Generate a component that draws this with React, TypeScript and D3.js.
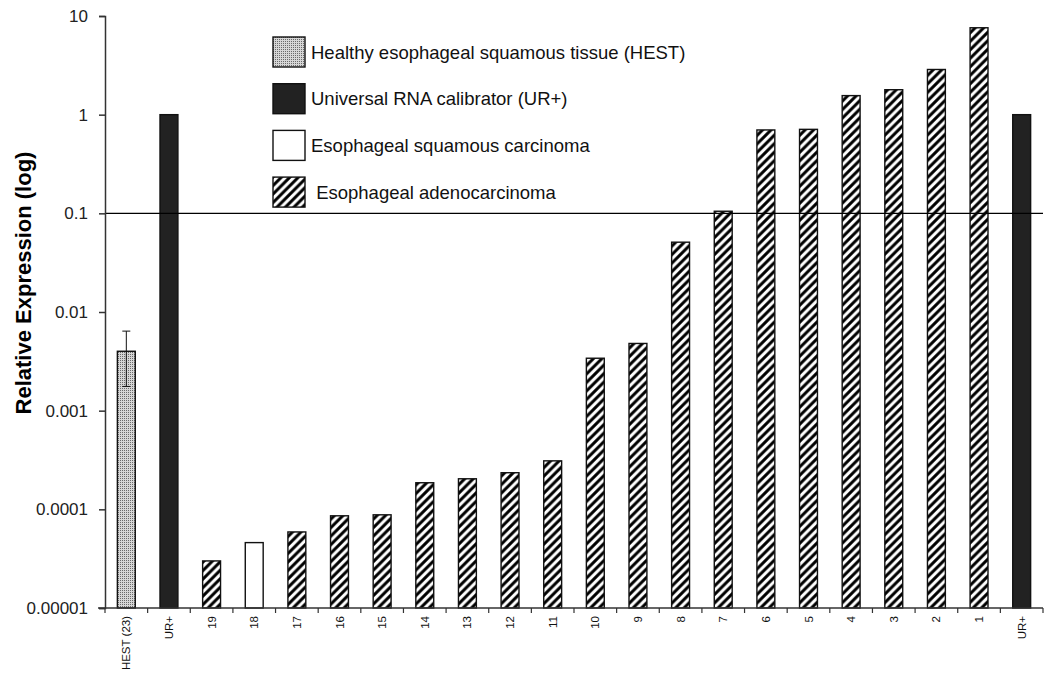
import React, { useEffect, useRef } from 'react';
import * as d3 from 'd3';

// categories left to right
const labels = ['HEST (23)', 'UR+', '19', '18', '17', '16', '15', '14', '13', '12', '11', '10', '9', '8', '7', '6', '5', '4', '3', '2', '1', 'UR+'];
const values = [0.004, 1, 0.00003, 0.000046, 0.000059, 0.000086, 0.000088, 0.000186, 0.000204, 0.000235, 0.00031, 0.0034, 0.0048, 0.051, 0.105, 0.70, 0.71, 1.56, 1.79, 2.87, 7.6, 1];
const groups = ['hest', 'ur', 'adeno', 'squam', 'adeno', 'adeno', 'adeno', 'adeno', 'adeno', 'adeno', 'adeno', 'adeno', 'adeno', 'adeno', 'adeno', 'adeno', 'adeno', 'adeno', 'adeno', 'adeno', 'adeno', 'ur'];
const hestError = { low: 0.00176, high: 0.0064 };
const yTicks = [0.00001, 0.0001, 0.001, 0.01, 0.1, 1, 10];
const yTickLabels = ['0.00001', '0.0001', '0.001', '0.01', '0.1', '1', '10'];
const threshold = 0.1;
const legendItems = [
  { group: 'hest', text: 'Healthy esophageal squamous tissue (HEST)' },
  { group: 'ur', text: 'Universal RNA calibrator (UR+)' },
  { group: 'squam', text: 'Esophageal squamous carcinoma' },
  { group: 'adeno', text: ' Esophageal adenocarcinoma' },
];

const W = 1050;
const H = 684;
const font = 'Arial, "Liberation Sans", sans-serif';

const fillFor = (g: string) =>
  g === 'hest' ? 'url(#dots)' : g === 'ur' ? '#222' : g === 'squam' ? '#fff' : 'url(#hatch)';

export default function App() {
  const ref = useRef<SVGSVGElement>(null);

  useEffect(() => {
    if (!ref.current) return;
    const svg = d3.select(ref.current);
    svg.selectAll('*').remove();

    const left = 105, right = 1043, top = 16, bottom = 608;

    const defs = svg.append('defs');
    const dots = defs.append('pattern').attr('id', 'dots')
      .attr('patternUnits', 'userSpaceOnUse').attr('width', 2).attr('height', 2);
    dots.append('rect').attr('width', 2).attr('height', 2).attr('fill', '#d6d6d6');
    dots.append('rect').attr('width', 1).attr('height', 1).attr('fill', '#6a6a6a');

    const p = 8.5;
    const hatch = defs.append('pattern').attr('id', 'hatch')
      .attr('patternUnits', 'userSpaceOnUse').attr('width', p).attr('height', p);
    hatch.append('rect').attr('width', p).attr('height', p).attr('fill', '#fff');
    hatch.append('path').attr('d', `M0,${p} L${p},0 M-2,2 L2,-2 M${p - 2},${p + 2} L${p + 2},${p - 2}`)
      .attr('stroke', '#000').attr('stroke-width', 3);

    const x = d3.scaleBand<number>()
      .domain(d3.range(labels.length))
      .range([left, right])
      .paddingInner(0.58)
      .paddingOuter(0.29);
    const y = d3.scaleLog().domain([0.00001, 10]).range([bottom, top]);

    // bars
    svg.append('g').selectAll('rect')
      .data(values)
      .enter().append('rect')
      .attr('x', (_, i) => x(i)!)
      .attr('width', x.bandwidth())
      .attr('y', d => y(d))
      .attr('height', d => bottom - y(d))
      .attr('fill', (_, i) => fillFor(groups[i]))
      .attr('stroke', '#111')
      .attr('stroke-width', 1.4);

    // error bar on HEST
    const ex = x(0)! + x.bandwidth() / 2;
    const eg = svg.append('g').attr('stroke', '#111').attr('stroke-width', 1);
    eg.append('line').attr('x1', ex).attr('x2', ex).attr('y1', y(hestError.high)).attr('y2', y(hestError.low));
    eg.append('line').attr('x1', ex - 4).attr('x2', ex + 4).attr('y1', y(hestError.high)).attr('y2', y(hestError.high));
    eg.append('line').attr('x1', ex - 4).attr('x2', ex + 4).attr('y1', y(hestError.low)).attr('y2', y(hestError.low));

    // threshold line
    svg.append('line')
      .attr('x1', left).attr('x2', right)
      .attr('y1', y(threshold)).attr('y2', y(threshold))
      .attr('stroke', '#000').attr('stroke-width', 1.2);

    // y axis
    const yAxis = d3.axisLeft(y)
      .tickValues(yTicks)
      .tickFormat((_, i) => yTickLabels[i])
      .tickSize(6)
      .tickPadding(11);
    const yg = svg.append('g').attr('transform', `translate(${left},0)`).call(yAxis);
    yg.select('.domain').attr('stroke', '#333').attr('stroke-width', 1.5);
    yg.selectAll('.tick line').attr('stroke', '#333').attr('stroke-width', 1.5);
    yg.selectAll('.tick text').attr('font-family', font).attr('font-size', 17).attr('fill', '#222');

    // x axis
    const xg = svg.append('g');
    xg.append('line').attr('x1', left - 7).attr('x2', right).attr('y1', bottom).attr('y2', bottom)
      .attr('stroke', '#333').attr('stroke-width', 1.5);
    const step = x.step();
    xg.selectAll('.xt')
      .data(d3.range(labels.length + 1))
      .enter().append('line')
      .attr('x1', i => left + i * step).attr('x2', i => left + i * step)
      .attr('y1', bottom).attr('y2', bottom + 5)
      .attr('stroke', '#333').attr('stroke-width', 1.2);
    xg.selectAll('.xl')
      .data(labels)
      .enter().append('text')
      .attr('transform', (_, i) => `translate(${x(i)! + x.bandwidth() / 2 + 4},${bottom + 8}) rotate(-90)`)
      .attr('text-anchor', 'end')
      .attr('font-family', font)
      .attr('font-size', 11.5)
      .attr('fill', '#111')
      .text(d => d);

    // y title
    svg.append('text')
      .attr('transform', `translate(31,283) rotate(-90)`)
      .attr('text-anchor', 'middle')
      .attr('font-family', font)
      .attr('font-weight', 'bold')
      .attr('font-size', 22)
      .attr('fill', '#000')
      .text('Relative Expression (log)');

    // legend
    const lg = svg.append('g').attr('transform', 'translate(273,37)');
    const item = lg.selectAll('g')
      .data(legendItems)
      .enter().append('g')
      .attr('transform', (_, i) => `translate(0,${i * 46.7})`);
    item.append('rect')
      .attr('width', 32).attr('height', 30)
      .attr('fill', d => fillFor(d.group))
      .attr('stroke', '#111').attr('stroke-width', 1.4);
    item.append('text')
      .attr('x', 38).attr('y', 21.5)
      .attr('font-family', font)
      .attr('font-size', 18.5)
      .attr('fill', '#111')
      .attr('xml:space', 'preserve')
      .style('white-space', 'pre')
      .text(d => d.text);
  }, []);

  return (
    <div style={{ position: 'absolute', left: 0, top: 0 }}>
      <svg ref={ref} width={W} height={H} style={{ display: 'block', background: '#fff' }} />
    </div>
  );
}
